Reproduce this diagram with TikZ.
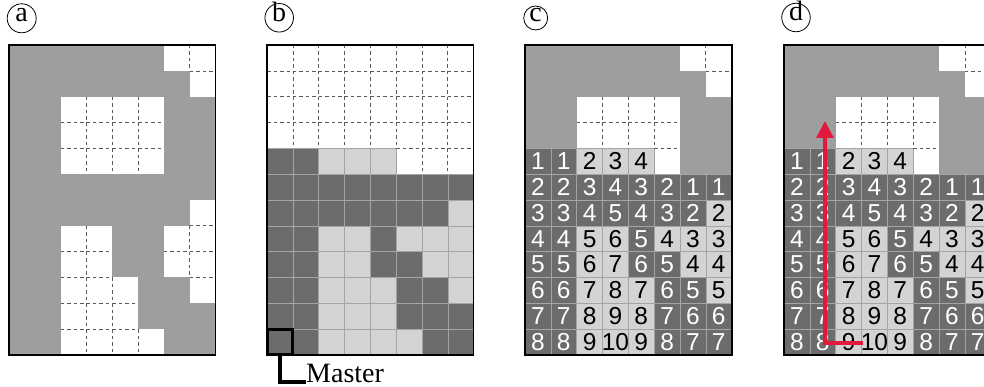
\documentclass[tikz,border=0pt]{standalone}
\usepackage{fontspec}
\setmainfont{Liberation Serif}
\newfontfamily\numfont{Liberation Sans}
\usetikzlibrary{arrows.meta}

\definecolor{gmid}{HTML}{9E9E9E}
\definecolor{gdark}{HTML}{6C6C6C}
\definecolor{glight}{HTML}{D3D3D3}
\definecolor{gline}{HTML}{A4A4A4}
\definecolor{dashc}{HTML}{5A5A5A}
\definecolor{arrowred}{HTML}{E2183C}

\def\S{25.83}
\def\Y{45}

\def\PA{{1,1,1,1,1,1,0,0,
1,1,1,1,1,1,1,0,
1,1,0,0,0,0,1,1,
1,1,0,0,0,0,1,1,
1,1,0,0,0,0,1,1,
1,1,1,1,1,1,1,1,
1,1,1,1,1,1,1,0,
1,1,0,0,1,1,0,0,
1,1,0,0,1,1,0,0,
1,1,0,0,0,1,1,0,
1,1,0,0,0,1,1,1,
1,1,0,0,0,0,1,1}}

\def\PB{{0,0,0,0,0,0,0,0,
0,0,0,0,0,0,0,0,
0,0,0,0,0,0,0,0,
0,0,0,0,0,0,0,0,
2,2,3,3,3,0,0,0,
2,2,2,2,2,2,2,2,
2,2,2,2,2,2,2,3,
2,2,3,3,2,3,3,3,
2,2,3,3,2,2,3,3,
2,2,3,3,3,2,2,3,
2,2,3,3,3,2,2,2,
2,2,3,3,3,3,2,2}}

\def\PC{{1,1,1,1,1,1,0,0,
1,1,1,1,1,1,1,0,
1,1,0,0,0,0,1,1,
1,1,0,0,0,0,1,1,
2,2,3,3,3,0,1,1,
2,2,2,2,2,2,2,2,
2,2,2,2,2,2,2,3,
2,2,3,3,2,3,3,3,
2,2,3,3,2,2,3,3,
2,2,3,3,3,2,2,3,
2,2,3,3,3,2,2,2,
2,2,3,3,3,2,2,2}}

\def\NUM{{0,0,0,0,0,0,0,0,
0,0,0,0,0,0,0,0,
0,0,0,0,0,0,0,0,
0,0,0,0,0,0,0,0,
1,1,2,3,4,0,0,0,
2,2,3,4,3,2,1,1,
3,3,4,5,4,3,2,2,
4,4,5,6,5,4,3,3,
5,5,6,7,6,5,4,4,
6,6,7,8,7,6,5,5,
7,7,8,9,8,7,6,6,
8,8,9,10,9,8,7,7}}

\tikzset{
  cellfill/.style={fill=#1,draw=#1,line width=0.3pt},
  gridl/.style={draw=gline,line width=0.6pt},
  dashl/.style={draw=dashc,line width=0.65pt,dash pattern=on 3.5pt off 3pt},
  numtxt/.style={inner sep=0pt,font=\numfont\fontsize{24.5}{24.5}\selectfont},
  frame/.style={draw=black,line width=1.7pt},
  plabel/.style={circle,draw=black,line width=0.8pt,inner sep=0pt,
    text height=0.66em,text depth=0pt,font=\fontsize{28}{28}\selectfont},
}

% #1 array, #2 x0, #3 draw numbers (1/0), #4 panel id
\newcommand\drawpanel[4]{%
  \foreach \rr in {0,...,11}{\foreach \cc in {0,...,7}{%
    \pgfmathtruncatemacro\kk{\rr*8+\cc}%
    \pgfmathtruncatemacro\vv{#1[\kk]}%
    \ifcase\vv\relax
      \path[cellfill=white] ({#2+\cc*\S},{\Y+\rr*\S}) rectangle ++(\S,\S);
    \or
      \path[cellfill=gmid] ({#2+\cc*\S},{\Y+\rr*\S}) rectangle ++(\S,\S);
    \or
      \path[cellfill=gdark] ({#2+\cc*\S},{\Y+\rr*\S}) rectangle ++(\S,\S);
    \or
      \path[cellfill=glight] ({#2+\cc*\S},{\Y+\rr*\S}) rectangle ++(\S,\S);
    \fi
  }}%
  \foreach \rr in {0,...,11}{\foreach \cc in {0,...,7}{%
    \pgfmathtruncatemacro\kk{\rr*8+\cc}%
    \pgfmathtruncatemacro\vv{#1[\kk]}%
    \ifnum\vv>1
      \draw[gridl] ({#2+\cc*\S},{\Y+\rr*\S}) rectangle ++(\S,\S);
    \fi
  }}%
  \foreach \rr in {0,...,11}{\foreach \cc in {0,...,6}{%
    \pgfmathtruncatemacro\kk{\rr*8+\cc}%
    \pgfmathtruncatemacro\ka{\kk+1}%
    \pgfmathtruncatemacro\va{#1[\kk]}%
    \pgfmathtruncatemacro\vb{#1[\ka]}%
    \ifnum\va=0 \ifnum\vb=0
      \draw[dashl] ({#2+(\cc+1)*\S},{\Y+\rr*\S}) -- ++(0,\S);
    \fi\fi
  }}%
  \foreach \rr in {0,...,10}{\foreach \cc in {0,...,7}{%
    \pgfmathtruncatemacro\kk{\rr*8+\cc}%
    \pgfmathtruncatemacro\ka{\kk+8}%
    \pgfmathtruncatemacro\va{#1[\kk]}%
    \pgfmathtruncatemacro\vb{#1[\ka]}%
    \ifnum\va=0 \ifnum\vb=0
      \draw[dashl] ({#2+\cc*\S},{\Y+(\rr+1)*\S}) -- ++(\S,0);
    \fi\fi
  }}%
  \ifnum#3=1
  \foreach \rr in {4,...,11}{\foreach \cc in {0,...,7}{%
    \pgfmathtruncatemacro\kk{\rr*8+\cc}%
    \pgfmathtruncatemacro\nn{\NUM[\kk]}%
    \pgfmathtruncatemacro\vv{#1[\kk]}%
    \ifnum\nn>0
      \ifnum\vv=2 \def\tc{white}\else\def\tc{black}\fi
      \node[numtxt,text=\tc] (n#4-\rr-\cc) at ({#2+(\cc+0.5)*\S},{\Y+(\rr+0.5)*\S}) {\nn};
    \fi
  }}%
  \fi
  \draw[frame] (#2,\Y) rectangle ++({8*\S},{12*\S});
}

\begin{document}
\begin{tikzpicture}[x=1pt,y=-1pt]
\useasboundingbox (0,0) rectangle (984,387);
\clip (0,0) rectangle (984,387);
\fill[white] (0,0) rectangle (984,387);

\drawpanel{\PA}{9}{0}{a}
\drawpanel{\PB}{267}{0}{b}
\drawpanel{\PC}{525}{1}{c}
\drawpanel{\PC}{784}{1}{d}

% labels
\node[plabel,minimum size=29pt] (la) at (21.7,18.3) {a};
\node[plabel,minimum size=28.5pt] (lb) at (279.2,17.8) {b};
\node[plabel,minimum size=24pt] (lc) at (535.7,18) {c};
\node[plabel,minimum size=28.5pt] (ld) at (796,17.5) {d};

% master
\node[draw=black,line width=3pt,minimum size={\S pt},inner sep=0pt] (msq)
  at ({267+0.5*\S},{\Y+11.5*\S}) {};
\node[anchor=base west,inner sep=0pt,font=\fontsize{28}{28}\selectfont] (master)
  at (306,382) {Master};
\draw[line width=3.2pt] (msq.south) |- (master.base west);

% red arrow in (d)
\coordinate (rs) at (863,343);
\coordinate (rc) at (825,343);
\coordinate (rt) at (825,121);
\draw[arrowred,line width=3.2pt,-{Triangle[length=17pt,width=17pt]}] (rs) -- (rc) -- (rt);
\end{tikzpicture}
\end{document}
